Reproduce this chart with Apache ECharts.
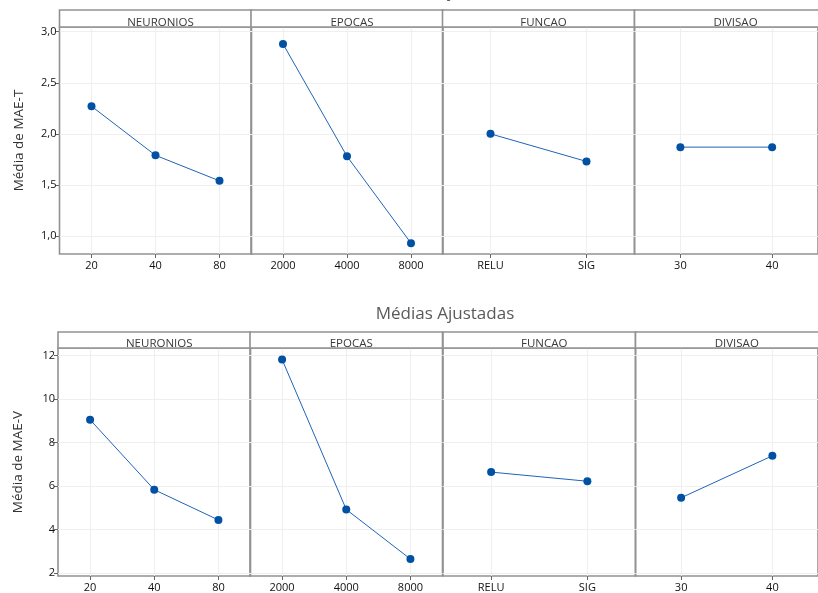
<!DOCTYPE html>
<html>
<head>
<meta charset="utf-8">
<script src="https://cdn.jsdelivr.net/npm/echarts@6/dist/echarts.min.js"></script>
<style>
  html, body { margin: 0; padding: 0; background: #fff; }
  #main { width: 818px; height: 593px; }
</style>
</head>
<body>
<div id="main"></div>
<script>
// fatores e niveis
var factors = ['NEURONIOS', 'EPOCAS', 'FUNCAO', 'DIVISAO'];
var levels = [
  ['20', '40', '80'],
  ['2000', '4000', '8000'],
  ['RELU', 'SIG'],
  ['30', '40']
];
// medias ajustadas de MAE-T
var maeT = [
  [2.27, 1.79, 1.54],
  [2.88, 1.78, 0.93],
  [2.00, 1.73],
  [1.87, 1.87]
];
// medias ajustadas de MAE-V
var maeV = [
  [9.05, 5.83, 4.44],
  [11.82, 4.92, 2.64],
  [6.64, 6.22],
  [5.46, 7.39]
];

var frameColor = '#929292';
var gridColor = '#efefef';
var fontFam = '"Open Sans", "Noto Sans", sans-serif';

var rows = [
  { data: maeT, name: 'Média de MAE-T', top: 27, height: 227, headTop: 10, headPad: 1.5,
    lefts: [59.5, 251, 442.5, 634.5], width: 192, min: 0.824, max: 3.046,
    fmt: function (v) { return v.toFixed(1).replace('.', ','); } },
  { data: maeV, name: 'Média de MAE-V', top: 348, height: 228, headTop: 332, headPad: 0.5,
    lefts: [58, 250, 443, 635.5], width: 192.5, min: 1.86, max: 12.35,
    fmt: function (v) { return String(v); } }
];

var grids = [], xAxes = [], yAxes = [], series = [], titles = [], graphics = [];

titles.push({
  text: 'Médias Ajustadas', left: 440, top: -21, textAlign: 'center', z: 20,
  textStyle: { fontFamily: fontFam, fontSize: 17, fontWeight: 'normal', color: '#5a5a5a' }
});
titles.push({
  text: 'Médias Ajustadas', left: 440, top: 301, textAlign: 'center', z: 20,
  textStyle: { fontFamily: fontFam, fontSize: 17, fontWeight: 'normal', color: '#5a5a5a' }
});

rows.forEach(function (row, r) {
  factors.forEach(function (f, i) {
    var idx = grids.length;
    var left = row.lefts[i];
    grids.push({
      left: left, top: row.top, width: row.width, height: row.height,
      show: true, borderColor: frameColor, borderWidth: 1.6, backgroundColor: 'transparent'
    });
    xAxes.push({
      type: 'category', gridIndex: idx, data: levels[i], boundaryGap: true,
      axisLine: { show: false },
      axisTick: { show: true, alignWithLabel: true, length: 4, lineStyle: { color: '#666' } },
      axisLabel: { fontFamily: fontFam, fontSize: 11, color: '#111', margin: 6 },
      splitLine: { show: true, alignWithLabel: true, lineStyle: { color: gridColor } }
    });
    yAxes.push({
      type: 'value', gridIndex: idx, min: row.min, max: row.max,
      name: i === 0 ? row.name : '', nameLocation: 'middle', nameGap: 33,
      nameTextStyle: { fontFamily: fontFam, fontSize: 13.5, color: '#333' },
      axisLine: { show: false },
      axisTick: { show: i === 0, length: 4, lineStyle: { color: '#666' } },
      axisLabel: { show: i === 0, fontFamily: fontFam, fontSize: 11, color: '#111', margin: 3,
        showMinLabel: false, showMaxLabel: false, formatter: row.fmt },
      splitLine: { show: true, showMinLine: false, showMaxLine: false, lineStyle: { color: gridColor } }
    });
    series.push({
      type: 'line', xAxisIndex: idx, yAxisIndex: idx, data: row.data[i],
      symbol: 'circle', symbolSize: 8,
      itemStyle: { color: '#0050a4' },
      lineStyle: { color: '#1e64b8', width: 1 },
      z: 5
    });
    // faixa do cabecalho do painel
    graphics.push({
      type: 'rect', z: 1,
      shape: { x: left, y: row.headTop, width: row.width, height: row.top - row.headTop },
      style: { fill: '#fff', stroke: frameColor, lineWidth: 1.6 }
    });
    titles.push({
      text: f, left: left + row.width / 2, top: row.headTop + row.headPad, textAlign: 'center', z: 20,
      textStyle: { fontFamily: fontFam, fontSize: 11.5, fontWeight: 'normal', color: '#3a3a3a' }
    });
  });
});

var chart = echarts.init(document.getElementById('main'));
chart.setOption({
  animation: false,
  title: titles,
  grid: grids,
  xAxis: xAxes,
  yAxis: yAxes,
  series: series,
  graphic: graphics
});
</script>
</body>
</html>
